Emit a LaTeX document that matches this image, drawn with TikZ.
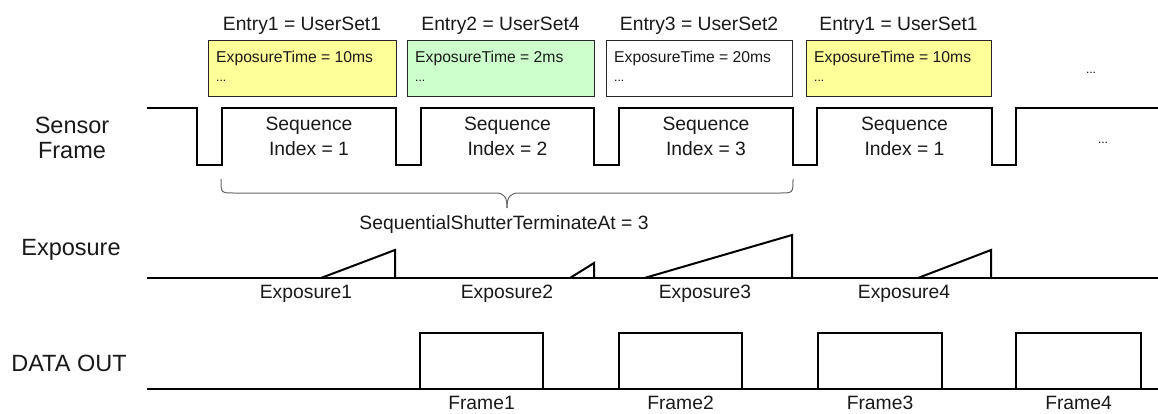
\documentclass[tikz,border=0pt]{standalone}
\usepackage{fontspec}
\setmainfont{Liberation Sans}
\begin{document}
\begin{tikzpicture}[x=1pt,y=-1pt,
  wave/.style={line width=2pt,line join=miter},
  entrybox/.style={draw=black!85,line width=1pt},
  txt/.style={inner sep=0pt,font=\fontsize{19.3}{22}\selectfont,text=black!90},
  sidelbl/.style={inner sep=0pt,font=\fontsize{23.5}{28}\selectfont,align=center,text=black!90},
  boxtxt/.style={inner sep=0pt,anchor=west,font=\fontsize{15.7}{18}\selectfont,text=black!90},
  dots/.style={inner sep=0pt,font=\fontsize{12}{14}\selectfont},
  bracecol/.style={line width=1pt,black!60}]
\definecolor{setyellow}{HTML}{FFFF99}
\definecolor{setgreen}{HTML}{CCFFCC}
\useasboundingbox (0,0) rectangle (1158,413);

% side labels
\node[sidelbl] (lsensor) at (72,138) {Sensor\\[-3pt]Frame};
\node[sidelbl] (lexp) at (71,250) {Exposure};
\node[sidelbl] (ldata) at (69,363) {DATA OUT};

% user set entries
\foreach \l/\r/\c/\t/\e [count=\i] in {208/396/setyellow/Entry1 = UserSet1/10ms,
                              407/594/setgreen/Entry2 = UserSet4/2ms,
                              606/792/white/Entry3 = UserSet2/20ms,
                              806/991/setyellow/Entry1 = UserSet1/10ms}{
  \draw[entrybox,fill=\c] (\l,40) rectangle (\r,96);
  \node[txt] (title\i) at ({(\l+\r)/2},26) {\t};
  \node[boxtxt] (et\i) at (\l+8,58) {ExposureTime = \e};
  \node[dots,anchor=west] (ed\i) at (\l+8,81) {...};
}
\node[dots] (moreentries) at (1091,73) {...};

% sensor frame signal
\draw[wave] (147,108) -- (197,108) -- (197,165) -- (222,165) -- (222,108)
  -- (396,108) -- (396,165) -- (421,165) -- (421,108)
  -- (594,108) -- (594,165) -- (619,165) -- (619,108)
  -- (793,108) -- (793,165) -- (817,165) -- (817,108)
  -- (992,108) -- (992,165) -- (1016,165) -- (1016,108) -- (1158,108);
\foreach \x/\n [count=\i] in {309/1,507.5/2,706/3,904.5/1}{
  \node[txt] (seq\i) at (\x,126) {Sequence};
  \node[txt] (idx\i) at (\x,149) {Index = \n};
}
\node[dots] (moreframes) at (1103,143) {...};

% brace over the sequence
\draw[bracecol] (221,179) .. controls (221,193) .. (234,193) -- (496,193)
  .. controls (504,193) and (507,197) .. (507,208);
\draw[bracecol] (507,208) .. controls (507,197) and (510,193) .. (519,193)
  -- (780,193) .. controls (793,193) .. (793,179);
\node[txt] (terminate) at (504,225) {SequentialShutterTerminateAt = 3};

% exposure signal
\draw[wave] (147,278) -- (1158,278);
\draw[wave] (321,278) -- (395,250) -- (395,278);
\draw[wave] (570,278) -- (594,263) -- (594,278);
\draw[wave] (644.5,278) -- (792,235) -- (792,278);
\draw[wave] (918,278) -- (991,250) -- (991,278);
\foreach \x [count=\i] in {306,507,705,904}{
  \node[txt] (exp\i) at (\x,294) {Exposure\i};
}

% data out signal
\draw[wave] (147,389) -- (1158,389);
\foreach \l/\r [count=\i] in {420/543,619/742,818/942,1016/1141}{
  \draw[wave] (\l,389) -- (\l,333) -- (\r,333) -- (\r,389);
  \node[txt] (frame\i) at ({(\l+\r)/2},403) {Frame\i};
}
\end{tikzpicture}
\end{document}
